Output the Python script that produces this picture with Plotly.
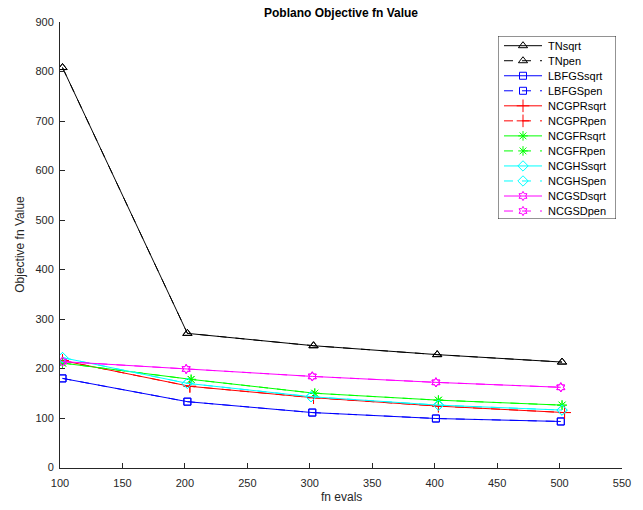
import plotly.graph_objects as go

# Objective function value vs. number of function evaluations, per Poblano solver
solvers = ["TN", "LBFGS", "NCGPR", "NCGFR", "NCGHS", "NCGSD"]
variants = ["sqrt", "pen"]

evals_TN = [102, 202, 303, 402, 502]
evals_LBFGS = [102, 202, 302, 401, 501]
evals_NCGPR = [102, 204, 303, 403, 504]
evals_NCGFR = [102, 205, 304, 403, 502]
evals_NCGHS = [102, 202, 301, 403, 502]
evals_NCGSD = [102, 201, 302, 401, 501]

fval_TN = [808, 271, 246, 228, 213]
fval_LBFGS = [180, 133, 111, 99, 93]
fval_NCGPR = [216, 164, 141, 124, 111]
fval_NCGFR = [211, 178, 150, 136, 126]
fval_NCGHS = [222, 170, 143, 126, 116]
fval_NCGSD = [214, 199, 184, 172, 162]

x_ticks = [100, 150, 200, 250, 300, 350, 400, 450, 500, 550]
y_ticks = [0, 100, 200, 300, 400, 500, 600, 700, 800, 900]

evals = {"TN": evals_TN, "LBFGS": evals_LBFGS, "NCGPR": evals_NCGPR,
         "NCGFR": evals_NCGFR, "NCGHS": evals_NCGHS, "NCGSD": evals_NCGSD}
fvals = {"TN": fval_TN, "LBFGS": fval_LBFGS, "NCGPR": fval_NCGPR,
         "NCGFR": fval_NCGFR, "NCGHS": fval_NCGHS, "NCGSD": fval_NCGSD}

colors = {"TN": "#000000", "LBFGS": "#0000FF", "NCGPR": "#FF0000",
          "NCGFR": "#00FF00", "NCGHS": "#00FFFF", "NCGSD": "#FF00FF"}
symbols = {"TN": "triangle-up-open", "LBFGS": "square-open", "NCGPR": "cross-thin-open",
           "NCGFR": "asterisk-open", "NCGHS": "diamond-open", "NCGSD": "hexagram-open"}
msizes = {"TN": 8, "LBFGS": 7, "NCGPR": 9, "NCGFR": 8, "NCGHS": 8, "NCGSD": 7}
dashes = {"sqrt": "solid", "pen": "dash"}

W, H = 643, 510
FONT = "Liberation Sans, Arial, Helvetica, sans-serif"
AX = "#262626"

fig = go.Figure()

for s in solvers:
    for v in variants:
        fig.add_trace(go.Scatter(
            x=evals[s], y=fvals[s], mode="lines+markers", name=s + v,
            line=dict(color=colors[s], width=1, dash=dashes[v]),
            marker=dict(symbol=symbols[s], size=msizes[s], color=colors[s],
                        line=dict(color=colors[s], width=1)),
            showlegend=False, xaxis="x", yaxis="y"))

# Legend drawn on its own small axes (pixel-like units) inside the plot
LX0, LX1, LY0, LY1 = 498, 616, 36, 219
row0, row_step = 45.7, 15.03
i = 0
for s in solvers:
    for v in variants:
        yrow = row0 + i * row_step
        fig.add_trace(go.Scatter(
            x=[504, 542], y=[yrow, yrow], mode="lines",
            line=dict(color=colors[s], width=1, dash=dashes[v]),
            showlegend=False, hoverinfo="skip", xaxis="x2", yaxis="y2"))
        fig.add_trace(go.Scatter(
            x=[523], y=[yrow], mode="markers",
            marker=dict(symbol=symbols[s], size=msizes[s], color=colors[s],
                        line=dict(color=colors[s], width=1)),
            showlegend=False, hoverinfo="skip", xaxis="x2", yaxis="y2"))
        fig.add_annotation(x=545.5, y=yrow, xref="x2", yref="y2", text=s + v,
                           showarrow=False, xanchor="left", yanchor="middle",
                           font=dict(family=FONT, size=11, color="#000000"))
        i += 1

fig.add_shape(type="rect", xref="x2", yref="y2", x0=LX0, x1=LX1, y0=LY0, y1=LY1,
              line=dict(color="#262626", width=1), fillcolor="rgba(255,255,255,1)",
              layer="below")

PL, PR, PT, PB = 60, 622, 22, 467.5

fig.update_layout(
    width=W, height=H,
    margin=dict(l=0, r=0, t=0, b=0, autoexpand=False),
    paper_bgcolor="white", plot_bgcolor="rgba(0,0,0,0)",
    font=dict(family=FONT, size=11, color=AX),
    xaxis=dict(domain=[PL / W, PR / W], range=[100, 550], tickvals=x_ticks,
               ticks="inside", ticklen=5, tickcolor=AX, showline=True, linecolor=AX,
               linewidth=1, mirror=False, showgrid=False, zeroline=False,
               automargin=False, ticklabelstandoff=5,
               tickfont=dict(family=FONT, size=11, color=AX)),
    yaxis=dict(domain=[1 - PB / H, 1 - PT / H], range=[0, 900], tickvals=y_ticks,
               ticks="inside", ticklen=5, tickcolor=AX, showline=True, linecolor=AX,
               linewidth=1, mirror=False, showgrid=False, zeroline=False,
               automargin=False, ticklabelstandoff=3,
               tickfont=dict(family=FONT, size=11, color=AX)),
    xaxis2=dict(domain=[LX0 / W, LX1 / W], range=[LX0, LX1], visible=False,
                fixedrange=True, automargin=False),
    yaxis2=dict(domain=[1 - LY1 / H, 1 - LY0 / H], range=[LY1, LY0], visible=False,
                fixedrange=True, automargin=False),
    showlegend=False,
)

fig.add_annotation(x=(PL + PR) / 2 / W, y=1 - 13 / H, xref="paper", yref="paper",
                   text="<b>Poblano Objective fn Value</b>", showarrow=False,
                   xanchor="center", yanchor="middle",
                   font=dict(family=FONT, size=12, color="#000000"))
fig.add_annotation(x=(PL + PR) / 2 / W, y=1 - 497 / H, xref="paper", yref="paper",
                   text="fn evals", showarrow=False, xanchor="center", yanchor="middle",
                   font=dict(family=FONT, size=12, color=AX))
fig.add_annotation(x=20 / W, y=1 - (PT + PB) / 2 / H, xref="paper", yref="paper",
                   text="Objective fn Value", showarrow=False, textangle=-90,
                   xanchor="center", yanchor="middle",
                   font=dict(family=FONT, size=12, color=AX))

fig.write_html("out.html")
